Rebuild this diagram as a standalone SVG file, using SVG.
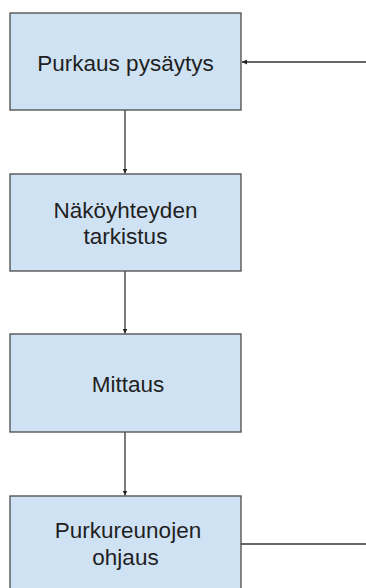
<svg xmlns="http://www.w3.org/2000/svg" width="366" height="588" viewBox="0 0 366 588">
  <style>
    .box { fill: #cfe2f3; stroke: #4a4a4a; stroke-width: 1.3; }
    .lbl { font-family: "Liberation Sans", Arial, sans-serif; font-size: 22.5px; fill: #1f1f1f; text-anchor: middle; }
    .edge { stroke: #333; stroke-width: 1.3; fill: none; }
  </style>
  <defs>
    <marker id="arr" viewBox="0 0 10 10" refX="10" refY="5" markerWidth="5" markerHeight="5" orient="auto" markerUnits="userSpaceOnUse">
      <path d="M0,0 L10,5 L0,10 Z" fill="#222"/>
    </marker>
  </defs>
  <rect width="366" height="588" fill="#ffffff"/>

  <g id="connectors">
    <line class="edge" x1="366" y1="62" x2="242" y2="62" marker-end="url(#arr)"/>
    <line class="edge" x1="125" y1="110" x2="125" y2="173.5" marker-end="url(#arr)"/>
    <line class="edge" x1="125" y1="271" x2="125" y2="333.5" marker-end="url(#arr)"/>
    <line class="edge" x1="125" y1="432" x2="125" y2="495.5" marker-end="url(#arr)"/>
    <line class="edge" x1="241" y1="544" x2="366" y2="544"/>
  </g>

  <g id="node-purkaus-pysaytys">
    <rect class="box" x="10" y="13" width="231" height="97"/>
    <text class="lbl" x="125.5" y="70.5">Purkaus pysäytys</text>
  </g>

  <g id="node-nakoyhteyden-tarkistus">
    <rect class="box" x="10" y="174" width="231" height="97"/>
    <text class="lbl" x="125.5" y="218">Näköyhteyden</text>
    <text class="lbl" x="125.5" y="243.5">tarkistus</text>
  </g>

  <g id="node-mittaus">
    <rect class="box" x="10" y="334" width="231" height="98"/>
    <text class="lbl" x="128" y="391.5">Mittaus</text>
  </g>

  <g id="node-purkureunojen-ohjaus">
    <rect class="box" x="10" y="496" width="231" height="100"/>
    <text class="lbl" x="128" y="538">Purkureunojen</text>
    <text class="lbl" x="125.5" y="564.5">ohjaus</text>
  </g>
</svg>
